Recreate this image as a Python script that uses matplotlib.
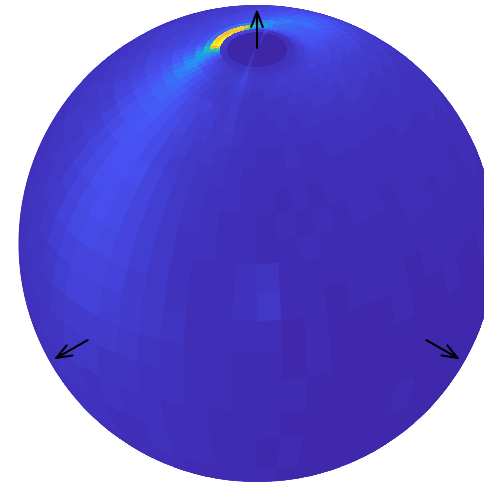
import numpy as np
import matplotlib
matplotlib.use("Agg")
import matplotlib.pyplot as plt
from matplotlib.colors import LinearSegmentedColormap
from matplotlib.patches import Circle

# colatitude band edges (deg from the pole), azimuth is 6 deg per column, 0 = facing viewer
colat_edges = [0, 7.3, 9, 10, 11.5, 13, 15, 18, 21, 24, 28, 32, 37, 42, 48, 54, 60, 67, 74, 82, 90, 100, 110, 125, 150]
n_az = 60

counts = [
    [0,0,0,0,0,0,0,0,0,0,0,0,0,0,0,0,0,0,0,0,0,0,0,0,0,0,0,5,1,0,0,0,0,0,0,0,0,0,0,0,0,0,0,0,0,0,0,0,0,0,0,0,0,0,0,0,1,5,1,0],
    [4,4,4,4,4,4,4,4,4,4,4,4,4,4,4,4,4,4,4,4,4,4,4,5,5,5,6,9,7,8,9,9,9,9,9,9,9,9,8,8,7,7,7,6,6,6,5,5,4,4,4,4,4,4,4,4,5,8,5,4],
    [5,5,5,5,5,5,5,5,5,5,5,5,6,6,6,6,7,7,7,8,8,9,10,11,12,14,16,19,21,24,30,40,60,76,82,85,88,90,92,95,97,100,100,85,60,35,20,14,10,8,7,6,6,6,5,5,6,9,6,5],
    [6,5,5,6,6,6,6,6,6,6,6,7,7,7,8,8,8,9,10,11,12,13,14,15,17,20,23,28,36,45,58,70,82,88,88,84,82,82,84,86,88,92,94,80,55,35,24,16,12,10,9,8,7,7,6,6,7,10,7,6],
    [6,6,6,6,7,7,7,7,7,8,8,8,8,9,9,10,11,12,13,14,15,16,17,18,19,20,22,28,38,40,34,30,28,26,24,22,20,20,20,22,24,30,38,48,48,38,28,20,15,11,10,9,8,7,7,7,8,10,7,6],
    [6,6,6,7,7,7,7,7,8,8,8,9,9,10,10,11,12,13,14,15,16,17,18,19,20,20,26,30,26,22,18,16,14,13,12,12,12,12,12,13,13,14,18,24,32,38,34,26,18,13,11,9,8,7,7,7,8,9,7,6],
    [5,6,6,6,6,7,7,7,7,7,8,8,8,9,9,10,11,12,13,14,15,16,17,18,22,26,24,20,16,14,12,12,11,11,11,11,10,10,10,11,11,12,13,15,18,24,30,30,24,18,14,11,9,8,7,6,7,8,6,5],
    [5,5,5,5,6,6,6,6,6,7,7,7,8,8,8,9,9,10,11,13,15,17,20,23,22,20,18,15,13,12,11,10,10,9,9,9,9,9,9,9,10,10,11,13,15,17,22,26,25,20,15,12,10,8,7,6,6,7,5,5],
    [4,5,5,5,5,5,6,6,6,6,6,7,7,7,7,8,8,9,10,11,13,15,17,19,19,18,15,13,11,10,9,9,8,8,8,8,8,8,8,8,9,9,10,11,12,14,17,20,22,21,17,13,11,9,9,7,6,7,5,5],
    [4,4,5,4,5,5,5,5,5,5,6,6,6,6,7,7,7,8,9,10,11,13,15,16,16,15,13,11,10,9,8,8,7,7,7,7,7,8,8,8,8,8,9,10,11,12,14,16,19,19,17,14,11,10,8,8,6,7,5,4],
    [4,4,4,4,4,4,4,4,5,5,5,5,5,5,5,6,6,7,7,8,9,10,12,13,13,12,11,10,9,8,7,7,7,6,6,6,6,7,7,7,7,7,8,8,9,10,12,14,16,17,17,14,12,10,8,7,6,6,5,4],
    [3,3,4,3,3,4,4,4,4,4,4,4,4,4,5,5,5,6,6,7,7,8,9,10,10,9,9,8,7,7,6,6,6,5,5,6,6,6,6,6,6,6,7,7,8,9,10,12,14,15,16,14,12,9,8,6,6,5,4,4],
    [3,3,3,3,3,3,3,3,3,3,3,4,4,4,4,4,4,5,5,5,6,6,7,7,7,7,7,6,6,6,5,5,5,5,5,5,5,5,5,5,5,6,6,6,7,7,8,10,12,14,15,14,12,9,7,6,5,5,4,3],
    [3,2,3,2,3,3,3,3,3,3,3,3,3,3,4,4,4,4,4,5,5,5,5,5,5,5,5,5,5,5,5,5,5,5,5,5,5,5,5,5,5,5,5,6,6,6,7,8,10,12,14,14,13,10,8,6,5,4,4,3],
    [2,3,2,3,2,3,3,2,3,3,3,3,3,3,3,3,4,4,4,4,4,4,4,4,4,4,4,4,4,4,4,4,4,4,4,4,4,4,4,4,5,5,5,5,6,6,6,7,9,11,13,13,12,10,8,6,5,4,3,3],
    [2,2,3,2,2,2,2,2,3,3,2,3,3,2,3,3,3,3,3,3,3,3,3,3,3,3,3,3,3,3,3,3,3,3,3,3,3,3,3,4,4,4,4,4,5,5,6,6,8,10,12,13,12,10,8,6,4,4,3,3],
    [5,2,2,2,2,2,2,2,2,2,2,2,2,2,3,3,3,3,3,3,3,3,3,3,3,3,3,3,3,3,3,3,3,3,3,3,3,3,3,3,3,4,4,4,4,5,5,6,7,9,11,12,11,10,8,6,4,3,3,4],
    [6,2,2,1,2,2,2,1,2,2,2,2,2,2,2,2,2,2,2,2,2,2,2,2,2,2,2,2,2,2,2,2,2,2,2,2,2,2,3,3,3,3,3,3,4,4,5,5,6,8,9,10,10,9,7,6,4,3,3,4],
    [3,1,2,1,1,1,2,1,1,2,1,1,2,1,2,2,2,2,2,2,2,2,2,2,2,2,2,2,2,2,2,2,2,2,2,2,2,2,2,2,2,3,3,3,3,4,4,5,5,6,8,9,9,8,7,6,5,3,3,3],
    [2,1,2,1,1,1,1,1,1,1,1,1,1,1,1,2,1,2,2,2,2,2,2,2,2,2,2,2,2,2,2,2,2,2,2,2,2,2,2,2,2,2,3,3,3,3,4,4,5,5,6,7,7,7,6,5,4,3,3,2],
    [2,2,1,1,1,1,1,1,1,1,1,1,1,1,1,1,1,1,2,2,2,2,2,2,2,2,2,2,2,2,2,2,2,2,2,2,2,2,2,2,2,2,2,3,3,3,3,4,4,5,5,6,6,5,5,4,4,3,3,2],
    [2,1,1,1,1,1,2,1,1,1,1,1,1,1,1,1,1,1,1,2,2,2,2,2,2,2,2,2,2,2,2,2,2,2,2,2,2,2,2,2,2,2,2,2,3,3,3,3,4,4,5,5,4,5,4,4,3,3,2,2],
    [1,2,1,1,1,1,1,1,1,1,1,1,1,1,1,1,1,1,1,1,2,2,2,2,2,2,2,2,2,2,2,2,2,2,2,2,2,2,2,2,2,2,2,2,2,3,3,3,3,4,4,4,4,3,3,4,3,3,2,2],
    [2,1,1,1,1,1,1,1,1,1,1,1,1,1,1,1,1,1,1,1,2,2,2,2,2,2,2,2,2,2,2,2,2,2,2,2,2,2,2,2,2,2,2,2,2,2,2,3,3,3,3,3,3,3,3,3,2,2,2,2],
]

# parula-like colour stops
parula_stops = ["#3e26a8", "#4852f4", "#2e87f7", "#12b1d6", "#37c897", "#abc739", "#fec338", "#f9fb15"]

# view: pole and the two other axes as seen on screen, unit sphere
pole_dir = [0.0, 0.82, 0.572]
front_dir = [0.0, -0.572, 0.82]
right_dir = [1.0, 0.0, 0.0]
axis_dirs = [[0.0, 0.82], [-0.71, -0.405], [0.71, -0.405]]
arrow_len = 1.2
center_px = (257, 243.5)
radius_px = 238.5
W, H = 484, 483


def sphere_xyz(c_deg, az_deg):
    c = np.radians(c_deg)
    a = np.radians(az_deg)
    p, f, r = map(np.array, (pole_dir, front_dir, right_dir))
    st = np.sin(c)
    out = []
    for i in range(3):
        out.append(np.cos(c) * p[i] + st * np.cos(a) * f[i] + st * np.sin(a) * r[i])
    return out


def plot_sphere():
    fig = plt.figure(figsize=(W / 100, H / 100), dpi=100)
    ax = fig.add_axes([0, 0, 1, 1])
    cmap = LinearSegmentedColormap.from_list("parula_ish", parula_stops)

    # split every cell so the limb and curved edges stay smooth
    sub = 4
    vals = np.repeat(np.repeat(np.array(counts, float), sub, axis=0), sub, axis=1)
    old = np.arange(len(colat_edges))
    c_grid = np.interp(np.arange(len(counts) * sub + 1) / sub, old, colat_edges)
    az_grid = np.linspace(0, 360, n_az * sub + 1)
    cc, aa = np.meshgrid(c_grid, az_grid, indexing="ij")
    x, y, z = sphere_xyz(cc, aa)
    z_mid = (z[:-1, :-1] + z[1:, :-1] + z[:-1, 1:] + z[1:, 1:]) / 4
    vals = np.ma.masked_where(z_mid < 0, vals)

    px = center_px[0] + radius_px * x
    py = center_px[1] - radius_px * y
    disc = Circle(center_px, radius_px, facecolor=cmap(0.025), edgecolor="none", zorder=1)
    ax.add_patch(disc)
    mesh = ax.pcolormesh(px, py, vals, cmap=cmap, vmin=0, vmax=100, shading="flat",
                         antialiased=False, linewidth=0, zorder=2)
    mesh.set_clip_path(disc)

    for d in axis_dirs:
        base = (center_px[0] + radius_px * d[0], center_px[1] - radius_px * d[1])
        tip = (center_px[0] + radius_px * arrow_len * d[0], center_px[1] - radius_px * arrow_len * d[1])
        ax.annotate("", xy=tip, xytext=base, zorder=5, annotation_clip=False,
                    arrowprops=dict(arrowstyle="->,head_length=1.1,head_width=0.42", color="black",
                                    lw=1.5, shrinkA=0, shrinkB=0))

    ax.set_xlim(0, W)
    ax.set_ylim(H, 0)
    ax.axis("off")
    fig.savefig("out.png", dpi=100, facecolor="white")


if __name__ == "__main__":
    plot_sphere()
